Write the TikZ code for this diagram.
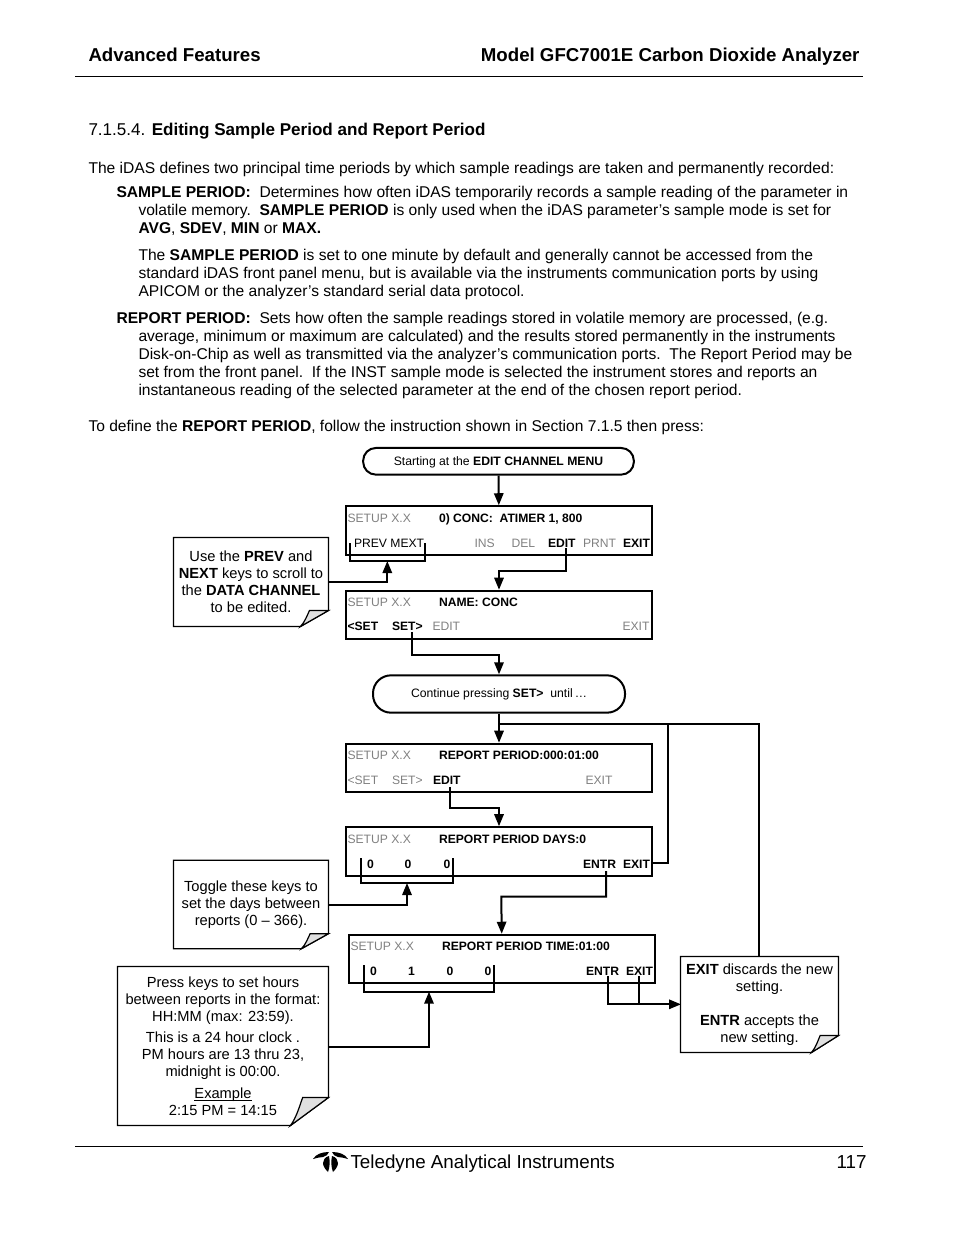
\documentclass[tikz,border=0pt]{standalone}
\usepackage{fontspec}
\setmainfont{Liberation Sans}
\usetikzlibrary{arrows.meta}

\definecolor{keygray}{gray}{0.5}
\definecolor{foldgray}{gray}{0.88}
\tikzset{every picture/.style={line width=0.75pt}}
\tikzset{
  pagetext/.style={anchor=north west,inner sep=0pt,align=left,font=\fontsize{11.7}{13.5}\selectfont},
  headtext/.style={inner sep=0pt,font=\fontsize{14}{16}\selectfont\bfseries},
  foottext/.style={inner sep=0pt,font=\fontsize{14.1}{16}\selectfont},
  panelbox/.style={draw,line width=1.5pt,minimum width=229.5pt,minimum height=36.4pt,inner sep=0pt},
  pillbox/.style={draw,line width=1.5pt,inner sep=0pt,font=\fontsize{9.15}{10}\selectfont},
  notebox/.style={inner sep=0pt,align=center,font=\fontsize{11}{12.75}\selectfont},
  keygrey/.style={anchor=base west,inner sep=0pt,text=keygray,font=\fontsize{9.1}{10}\selectfont},
  keyblack/.style={anchor=base west,inner sep=0pt,font=\fontsize{9.1}{10}\selectfont},
  keybold/.style={anchor=base west,inner sep=0pt,font=\fontsize{9.1}{10}\selectfont\bfseries},
  flowline/.style={line width=1.5pt},
  flowarrow/.style={line width=1.5pt,-{Triangle[length=9pt,width=7pt]}},
  keybracket/.style={line width=1.3pt},
  notefoldline/.style={line width=0.9pt},
}
% outline of a note with its turned corner
\newcommand{\notecorner}[3]{
  \path (#1.south east) ++(-#2,0) coordinate (#1a);
  \path (#1.south east) ++(0,-#3) coordinate (#1b);
  \path (#1a) ++(0.32*#2,-#3) coordinate (#1c);
  \draw[notefoldline] (#1.north west) -- (#1.north east) -- (#1b) -- (#1a) -- (#1.south west) -- cycle;
  \draw[notefoldline,fill=foldgray] (#1a) .. controls +(0.16*#2,-0.3*#3) and +(-0.08*#2,0.3*#3) .. (#1c) -- (#1b) -- cycle;
}

\begin{document}
\begin{tikzpicture}[x=0.75pt,y=0.75pt,yscale=-1,xscale=1]
\useasboundingbox (0,0) rectangle (954,1235);

% page head
\node (headleft) [headtext,anchor=base west] at (88,61) {Advanced Features};
\node (headright) [headtext,anchor=base east] at (860,61) {Model GFC7001E Carbon Dioxide Analyzer};
\coordinate (headrulea) at (75,76.5);
\coordinate (headruleb) at (863,76.5);
\draw [line width=1.1pt] (headrulea) -- (headruleb);

% page text
\node (section) [pagetext,font=\fontsize{12.8}{14}\selectfont] at (88,123) {7.1.5.4. \textbf{Editing Sample Period and Report Period}};
\node (intro) [pagetext] at (88,161.5) {The iDAS defines two principal time periods by which sample readings are taken and permanently recorded:};
\node (samplehead) [pagetext] at (116,185.5) {\textbf{SAMPLE PERIOD:}\ \ Determines how often iDAS temporarily records a sample reading of the parameter in};
\node (sampletext) [pagetext] at (138,203.5) {volatile memory.\ \ \textbf{SAMPLE PERIOD} is only used when the iDAS parameter’s sample mode is set for\\\textbf{AVG}, \textbf{SDEV}, \textbf{MIN} or \textbf{MAX.}};
\node (samplemore) [pagetext] at (138,248.5) {The \textbf{SAMPLE PERIOD} is set to one minute by default and generally cannot be accessed from the\\standard iDAS front panel menu, but is available via the instruments communication ports by using\\APICOM or the analyzer’s standard serial data protocol.};
\node (reporthead) [pagetext] at (116,311.5) {\textbf{REPORT PERIOD:}\ \ Sets how often the sample readings stored in volatile memory are processed, (e.g.};
\node (reporttext) [pagetext] at (138,329.5) {average, minimum or maximum are calculated) and the results stored permanently in the instruments\\Disk-on-Chip as well as transmitted via the analyzer’s communication ports.\ \ The Report Period may be\\set from the front panel.\ \ If the INST sample mode is selected the instrument stores and reports an\\instantaneous reading of the selected parameter at the end of the chosen report period.};
\node (define) [pagetext] at (88,419.5) {To define the \textbf{REPORT PERIOD}, follow the instruction shown in Section 7.1.5 then press:};

% flow boxes
\node (startpill) [pillbox,rounded corners=9.5pt,minimum width=203pt,minimum height=20pt,text height=8pt,text depth=1.9pt] at (498.5,461.3) {Starting at the \textbf{EDIT CHANNEL MENU}};
\node (panelconc) [panelbox] at (499,530.5) {};
\node (panelname) [panelbox] at (499,615) {};
\node (contpill) [pillbox,rounded corners=13.5pt,minimum width=189pt,minimum height=28pt] at (499,694) {Continue pressing \textbf{SET>}\ \ until\,…};
\node (panelreport) [panelbox] at (499,768) {};
\node (paneldays) [panelbox] at (499,851.5) {};
\node (paneltime) [panelbox] at (502,959) {};

% panel texts
\node (concsetup) [keygrey] at (347,522) {SETUP X.X};
\node (conctitle) [keybold] at (438.5,522) {0) CONC:\ \ ATIMER 1, 800};
\node (concprev) [keyblack] at (353.5,547) {PREV MEXT};
\node (concins) [keygrey] at (474,547) {INS};
\node (concdel) [keygrey] at (511,547) {DEL};
\node (concedit) [keybold] at (547.5,547) {EDIT};
\node (concprnt) [keygrey] at (582.5,547) {PRNT};
\node (concexit) [keybold] at (622.5,547) {EXIT};

\node (namesetup) [keygrey] at (347,606) {SETUP X.X};
\node (nametitle) [keybold] at (438.5,606) {NAME: CONC};
\node (nameprev) [keybold] at (347,630.5) {<SET};
\node (namenext) [keybold] at (391.5,630.5) {SET>};
\node (nameedit) [keygrey] at (432,630.5) {EDIT};
\node (nameexit) [keygrey] at (622,630.5) {EXIT};

\node (reportsetup) [keygrey] at (347,759) {SETUP X.X};
\node (reporttitle) [keybold] at (438.5,759) {REPORT PERIOD:000:01:00};
\node (reportprev) [keygrey] at (347,784) {<SET};
\node (reportnext) [keygrey] at (391.5,784) {SET>};
\node (reportedit) [keybold] at (432.5,784) {EDIT};
\node (reportexit) [keygrey] at (585,784) {EXIT};

\node (dayssetup) [keygrey] at (347,843) {SETUP X.X};
\node (daystitle) [keybold] at (438.5,843) {REPORT PERIOD DAYS:0};
\node (daysa) [keybold] at (366.5,868) {0};
\node (daysb) [keybold] at (404,868) {0};
\node (daysc) [keybold] at (443,868) {0};
\node (daysentr) [keybold] at (582.5,868) {ENTR};
\node (daysexit) [keybold] at (622.5,868) {EXIT};

\node (timesetup) [keygrey] at (350,950) {SETUP X.X};
\node (timetitle) [keybold] at (441.5,950) {REPORT PERIOD TIME:01:00};
\node (timea) [keybold] at (369.5,975) {0};
\node (timeb) [keybold] at (407.5,975) {1};
\node (timec) [keybold] at (446,975) {0};
\node (timed) [keybold] at (484,975) {0};
\node (timeentr) [keybold] at (585.5,975) {ENTR};
\node (timeexit) [keybold] at (625.5,975) {EXIT};

% notes
\node (noteuse) [notebox,minimum width=115.5pt,minimum height=66pt] at (251,582) {Use the \textbf{PREV} and\\\textbf{NEXT} keys to scroll to\\the \textbf{DATA CHANNEL}\\to be edited.};
\notecorner{noteuse}{28}{16}
\node (notetoggle) [notebox,minimum width=115.5pt,minimum height=65.5pt] at (251,904.5) {Toggle these keys to\\set the days between\\reports (0 – 366).};
\notecorner{notetoggle}{27}{15}
\node (notepress) [notebox,minimum width=157.5pt,minimum height=118.5pt] at (223,1046) {Press keys to set hours\\between reports in the format:\\HH:MM (max: 23:59).\\[3.5pt]This is a 24 hour clock .\\PM hours are 13 thru 23,\\midnight is 00:00.\\[3.5pt]\underline{\smash{Example}}\\2:15 PM = 14:15};
\notecorner{notepress}{38}{28}
\node (noteexit) [notebox,minimum width=117.75pt,minimum height=71.25pt] at (759.5,1004.5) {\textbf{EXIT} discards the new\\setting.\\\mbox{}\\\textbf{ENTR} accepts the\\new setting.};
\notecorner{noteexit}{27}{17}

% free ends of the connectors
\coordinate (editfoot) at (565.7,548);
\coordinate (nextfoot) at (411.7,632);
\coordinate (reporteditfoot) at (450,787);
\coordinate (daysentrfoot) at (606,871);
\coordinate (daysexitend) at (652,863);
\coordinate (branchdown) at (499,724);
\coordinate (rightturn) at (668,724);
\coordinate (farturn) at (759,724);
\coordinate (timeentrfoot) at (608.3,976);
\coordinate (timeexitfoot) at (639,976);
\coordinate (noteexitin) at (681,1004.3);

% brackets over the keys
\coordinate (prevbrl) at (350,543);
\coordinate (prevbrm) at (387.3,561);
\coordinate (prevbrr) at (425,543);
\coordinate (daysbrl) at (360.7,858);
\coordinate (daysbrm) at (407,883);
\coordinate (daysbrr) at (453,858);
\coordinate (timebrl) at (363.7,965);
\coordinate (timebrm) at (429,991.7);
\coordinate (timebrr) at (494.3,965);
\draw [keybracket] (prevbrl) |- (prevbrm) -| (prevbrr);
\draw [keybracket] (daysbrl) |- (daysbrm) -| (daysbrr);
\draw [keybracket] (timebrl) |- (timebrm) -| (timebrr);

% connectors
\draw [flowarrow] (startpill) -- (panelconc);
\draw [flowarrow] (editfoot) |- (499,571) -- (panelname);
\draw [flowarrow] (nextfoot) |- (499,655) -- (contpill);
\draw [flowarrow] (contpill) -- (panelreport);
\draw [flowarrow] (reporteditfoot) |- (499,807.7) -- (paneldays);
\draw [flowarrow] (daysentrfoot) |- (501.3,896.7) -- (paneltime);
\draw [flowline] (branchdown) -- (rightturn) -- (farturn) -- (farturn |- noteexit.north);
\draw [flowline] (rightturn) |- (daysexitend);
\draw [flowarrow] (noteuse.east |- 0,581.5) -| (prevbrm);
\draw [flowarrow] (notetoggle.east |- 0,905) -| (daysbrm);
\draw [flowarrow] (notepress.east |- 0,1047) -| (timebrm);
\draw [flowarrow] (timeentrfoot) |- (noteexitin);
\draw [flowline] (timeexitfoot) -- (timeexitfoot |- noteexitin);

% page foot
\coordinate (footrulea) at (75,1146.5);
\coordinate (footruleb) at (863,1146.5);
\draw [line width=0.75pt] (footrulea) -- (footruleb);
% logo
\fill (313,1159) .. controls (316,1154) and (322,1152) .. (329,1152) .. controls (328,1155) and (326,1156) .. (323,1157) .. controls (320,1157) and (317,1158) .. (313,1159) -- cycle;
\fill (348,1159) .. controls (345,1154) and (339,1152) .. (332,1152) .. controls (333,1155) and (335,1156) .. (338,1157) .. controls (341,1157) and (344,1158) .. (348,1159) -- cycle;
\fill (329,1156) .. controls (325,1157) and (323,1160) .. (323,1163) .. controls (323,1166) and (325,1169) .. (328,1172) .. controls (330,1167) and (330,1161) .. (329,1156) -- cycle;
\fill (332,1156) .. controls (336,1157) and (338,1160) .. (338,1163) .. controls (338,1166) and (336,1169) .. (333,1172) .. controls (331,1167) and (331,1161) .. (332,1156) -- cycle;
\node (footname) [foottext,anchor=base west] at (350,1168) {Teledyne Analytical Instruments};
\node (footpage) [foottext,anchor=base east] at (867,1168) {117};

\end{tikzpicture}
\end{document}
